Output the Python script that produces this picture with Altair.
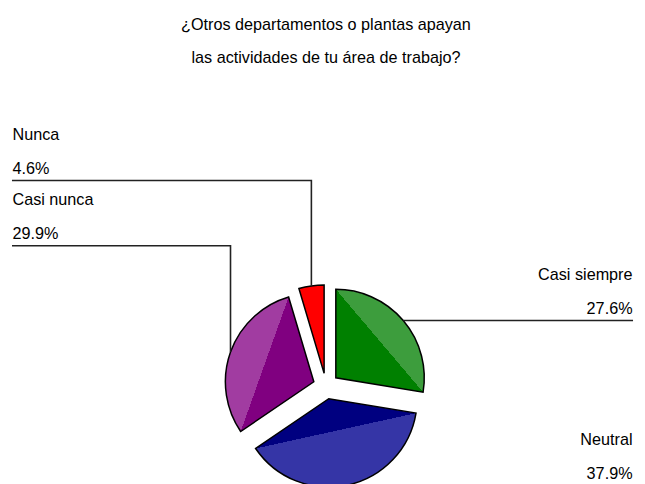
import math
import altair as alt
import pandas as pd

# ---- data -------------------------------------------------------------
categories = ["Casi siempre", "Neutral", "Casi nunca", "Nunca"]
percent = [27.6, 37.9, 29.9, 4.6]
pct_labels = ["27.6%", "37.9%", "29.9%", "4.6%"]
title_lines = ["¿Otros departamentos o plantas apayan",
               "las actividades de tu área de trabajo?"]

# ---- styles / layout --------------------------------------------------
dark = ["#008000", "#000080", "#800080", "#ff0000"]
light = ["#3d9d3d", "#3535a6", "#a13ca1", "#ff0000"]
W, H = 629, 462
CX, CY = 320, 379
R = 89
EXPLODE = 13
FONT = "Liberation Sans"
FS = 16.3
left_rows = {"Nunca": 172, "Casi nunca": 237.7}
LEFT_X = 4
RIGHT_X = 629
TEXT_PAD = 0.5
TITLE_Y = [20.5, 53.5]

xs = alt.Scale(domain=[0, W], nice=False, zero=False)
ys = alt.Scale(domain=[0, H], nice=False, zero=False, reverse=True)

# ---- geometry ---------------------------------------------------------
rows, lines, texts, grads = [], [], [], []
cum = 0.0
for i, (c, p, lab) in enumerate(zip(categories, percent, pct_labels)):
    t0, t1 = cum, cum + p
    cum = t1
    a0, a1 = t0 / 100 * 2 * math.pi, t1 / 100 * 2 * math.pi
    am = (a0 + a1) / 2
    sx = CX + EXPLODE * math.sin(am)
    sy = CY - EXPLODE * math.cos(am)
    px = sx + R * math.sin(am)
    py = sy - R * math.cos(am)
    rows.append(dict(cat=c, idx=i, t0=t0, t1=t1, sx=sx, sy=sy))
    if math.sin(am) >= 0:
        ly = py
        lines += [dict(cat=c, seq=0, x=px, y=py), dict(cat=c, seq=1, x=RIGHT_X, y=py)]
        texts += [dict(t=c, x=RIGHT_X - TEXT_PAD, y=ly - 40.5, al="right"),
                  dict(t=lab, x=RIGHT_X - TEXT_PAD, y=ly - 6.5, al="right")]
    else:
        ly = left_rows[c]
        lines += [dict(cat=c, seq=0, x=LEFT_X, y=ly), dict(cat=c, seq=1, x=px, y=ly),
                  dict(cat=c, seq=2, x=px, y=py)]
        texts += [dict(t=c, x=LEFT_X + TEXT_PAD, y=ly - 40.5, al="left"),
                  dict(t=lab, x=LEFT_X + TEXT_PAD, y=ly - 6.5, al="left")]

    # gradient: dark triangle (apex + chord), lighter circular segment
    pts = [(0.0, 0.0), (R * math.sin(a0), -R * math.cos(a0)), (R * math.sin(a1), -R * math.cos(a1))]
    for k in range(5):
        ak = k * math.pi / 2
        if a0 < ak < a1:
            pts.append((R * math.sin(ak), -R * math.cos(ak)))
    mnx, mxx = min(q[0] for q in pts), max(q[0] for q in pts)
    mny, mxy = min(q[1] for q in pts), max(q[1] for q in pts)
    nx = lambda v: (v - mnx) / (mxx - mnx)
    ny = lambda v: (v - mny) / (mxy - mny)
    p1 = (nx(pts[1][0]), ny(pts[1][1]))
    p2 = (nx(pts[2][0]), ny(pts[2][1]))
    ap = (nx(0.0), ny(0.0))
    m = ((p1[0] + p2[0]) / 2, (p1[1] + p2[1]) / 2)
    d = (p2[0] - p1[0], p2[1] - p1[1])
    n = (-d[1], d[0])
    ln = math.hypot(*n)
    n = (n[0] / ln, n[1] / ln)
    if (m[0] - ap[0]) * n[0] + (m[1] - ap[1]) * n[1] < 0:
        n = (-n[0], -n[1])
    s = 0.6
    grads.append({
        "gradient": "linear",
        "x1": m[0] - n[0] * s, "y1": m[1] - n[1] * s,
        "x2": m[0] + n[0] * s, "y2": m[1] + n[1] * s,
        "stops": [
            {"offset": 0, "color": dark[i]},
            {"offset": 0.5, "color": dark[i]},
            {"offset": 0.5, "color": light[i]},
            {"offset": 1, "color": light[i]},
        ],
    })

arcs_df = pd.DataFrame(rows)
lines_df = pd.DataFrame(lines)
texts_df = pd.DataFrame(texts)
title_df = pd.DataFrame({"t": title_lines, "x": [CX, CX], "y": TITLE_Y})

X = lambda f: alt.X(f, scale=xs, axis=None)
Y = lambda f: alt.Y(f, scale=ys, axis=None)

layers = []
for i in range(len(categories)):
    layers.append(
        alt.Chart(arcs_df[arcs_df.idx == i]).mark_arc(
            radius=R, fill=grads[i], stroke="#000000", strokeWidth=1.5
        ).encode(
            x=X("sx:Q"), y=Y("sy:Q"),
            theta=alt.Theta("t0:Q", stack=False,
                            scale=alt.Scale(domain=[0, 100], range=[0, 2 * math.pi])),
            theta2="t1:Q",
        )
    )

leader = alt.Chart(lines_df).mark_line(color="#222222", strokeWidth=1.6).encode(
    x=X("x:Q"), y=Y("y:Q"), detail="cat:N", order="seq:Q"
)

lab_left = alt.Chart(texts_df[texts_df.al == "left"]).mark_text(
    align="left", baseline="alphabetic", font=FONT, fontSize=FS, color="#000000"
).encode(x=X("x:Q"), y=Y("y:Q"), text="t:N")

lab_right = alt.Chart(texts_df[texts_df.al == "right"]).mark_text(
    align="right", baseline="alphabetic", font=FONT, fontSize=FS, color="#000000"
).encode(x=X("x:Q"), y=Y("y:Q"), text="t:N")

title = alt.Chart(title_df).mark_text(
    align="center", baseline="alphabetic", font=FONT, fontSize=FS, color="#000000"
).encode(x=X("x:Q"), y=Y("y:Q"), text="t:N")

chart = alt.layer(*layers, leader, lab_left, lab_right, title).properties(
    width=W, height=H, padding=0
).configure_view(strokeWidth=0)

chart.save("out.html", embed_options={"renderer": "svg", "actions": False})
